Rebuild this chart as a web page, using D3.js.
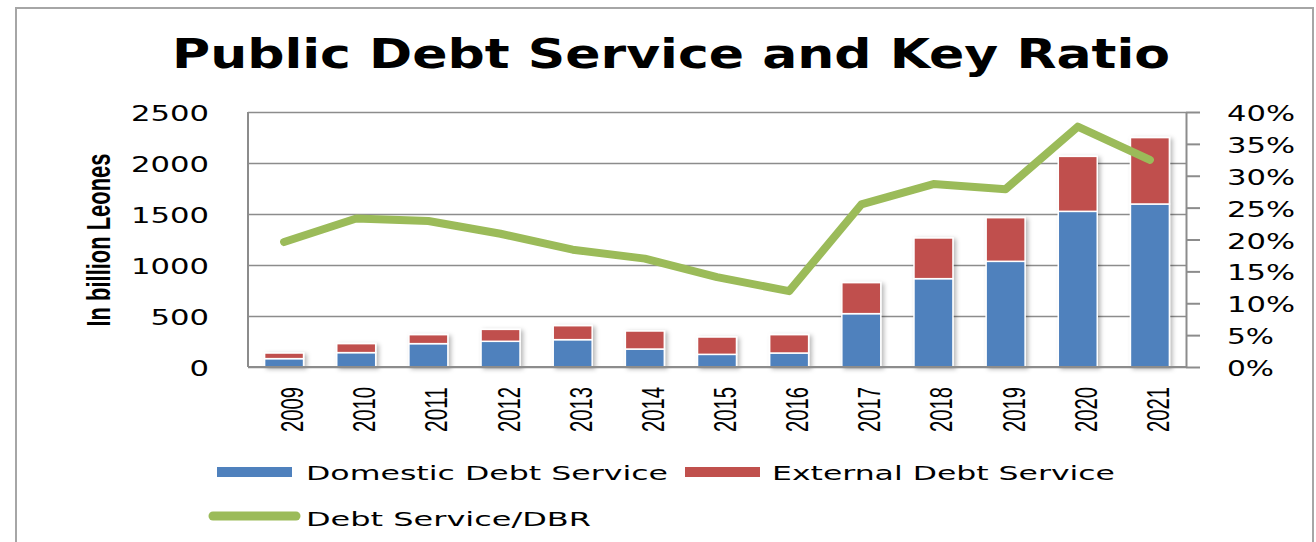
<!DOCTYPE html>
<html>
<head>
<meta charset="utf-8">
<script src="https://cdn.jsdelivr.net/npm/d3@7"></script>
<style>
  html, body { margin: 0; padding: 0; background: #ffffff; }
  svg { display: block; }
</style>
</head>
<body>
<svg id="chart" width="1316" height="542"></svg>
<script>
// Fiscal years on the category axis
const years = ["2009", "2010", "2011", "2012", "2013", "2014", "2015",
               "2016", "2017", "2018", "2019", "2020", "2021"];

// Debt service, billion Leones
const domesticDebtService = [82, 141, 229, 252, 268, 176, 124, 137, 523, 866, 1036, 1526, 1598];
const externalDebtService = [55, 88, 88, 117, 137, 177, 170, 180, 304, 399, 428, 539, 651];

// Debt service as a share of domestic budget revenue
const debtServiceRatio = [0.196, 0.233, 0.229, 0.209, 0.184, 0.170, 0.141, 0.119,
                          0.255, 0.287, 0.279, 0.377, 0.325];

// Axis ticks
const leftTicks = [0, 500, 1000, 1500, 2000, 2500];
const rightTicks = [0, 0.05, 0.10, 0.15, 0.20, 0.25, 0.30, 0.35, 0.40];

const seriesNames = ["Domestic Debt Service", "External Debt Service", "Debt Service/DBR"];
const colors = { domestic: "#4F81BD", external: "#C0504D", ratio: "#9BBB59" };

const svg = d3.select("#chart");

// Drop shadow for the columns
const defs = svg.append("defs");
const shadow = defs.append("filter").attr("id", "barShadow")
  .attr("x", "-30%").attr("y", "-10%").attr("width", "160%").attr("height", "130%");
shadow.append("feDropShadow").attr("dx", 2.5).attr("dy", 1.5)
  .attr("stdDeviation", 2).attr("flood-color", "#000").attr("flood-opacity", 0.28);

// Outer frame
svg.append("path")
  .attr("d", "M16,560 L16,8 L1313,8 L1313,560")
  .attr("fill", "none").attr("stroke", "#a6a6a6").attr("stroke-width", 2);

// Plot geometry
const plotLeft = 248, plotRight = 1186, plotTop = 112, plotBottom = 367;

const x = d3.scaleBand().domain(years).range([plotLeft, plotRight])
  .paddingInner(0.46).paddingOuter(0.23);
const yLeft = d3.scaleLinear().domain([0, 2500]).range([plotBottom, plotTop]);
const yRight = d3.scaleLinear().domain([0, 0.40]).range([plotBottom, plotTop]);

// Title
svg.append("text")
  .attr("x", 172).attr("y", 68)
  .attr("font-family", "'DejaVu Sans', Verdana, sans-serif")
  .attr("font-weight", "bold").attr("font-size", 40)
  .attr("textLength", 998).attr("lengthAdjust", "spacingAndGlyphs")
  .attr("fill", "#000")
  .text("Public Debt Service and Key Ratio");

// Horizontal gridlines
const grid = svg.append("g")
  .attr("transform", `translate(${plotLeft},0)`)
  .call(d3.axisLeft(yLeft).tickValues(leftTicks)
        .tickSize(-(plotRight - plotLeft)).tickFormat(""));
grid.select(".domain").remove();
grid.selectAll(".tick line").attr("stroke", "#8c8c8c").attr("stroke-width", 1.6);

// Left axis line
svg.append("line")
  .attr("x1", plotLeft).attr("x2", plotLeft)
  .attr("y1", plotTop).attr("y2", plotBottom)
  .attr("stroke", "#8c8c8c").attr("stroke-width", 2);

// Left tick labels
const leftAxis = svg.append("g")
  .attr("transform", "translate(209,0)")
  .call(d3.axisLeft(yLeft).tickValues(leftTicks).tickSize(0).tickPadding(0)
        .tickFormat(d3.format("d")));
leftAxis.select(".domain").remove();
leftAxis.selectAll(".tick text")
  .attr("font-family", "'DejaVu Sans', Verdana, sans-serif")
  .attr("font-size", 21).attr("fill", "#000")
  .attr("dy", null).attr("y", 8.5)
  .attr("textLength", d => String(d).length * 19.5)
  .attr("lengthAdjust", "spacingAndGlyphs");

// Columns
const stacked = years.map((yr, i) => ({
  year: yr, domestic: domesticDebtService[i], external: externalDebtService[i]
}));
const stack = d3.stack().keys(["domestic", "external"])(stacked);

const barsG = svg.append("g").attr("filter", "url(#barShadow)");
barsG.selectAll("g.series")
  .data(stack)
  .join("g")
  .attr("class", "series")
  .attr("fill", d => colors[d.key])
  .selectAll("rect")
  .data(d => d)
  .join("rect")
  .attr("x", d => x(d.data.year))
  .attr("width", x.bandwidth())
  .attr("y", d => yLeft(d[1]))
  .attr("height", d => yLeft(d[0]) - yLeft(d[1]))
  .attr("stroke", "#ffffff").attr("stroke-width", 1.5);

// Category axis
svg.append("line")
  .attr("x1", plotLeft).attr("x2", plotRight)
  .attr("y1", plotBottom).attr("y2", plotBottom)
  .attr("stroke", "#8c8c8c").attr("stroke-width", 2);

const xAxis = svg.append("g")
  .attr("transform", `translate(0,${plotBottom})`)
  .call(d3.axisBottom(x).tickSize(0).tickPadding(0));
xAxis.select(".domain").remove();
xAxis.selectAll(".tick text")
  .attr("font-family", "'Liberation Sans', Arial, sans-serif")
  .attr("font-size", 32).attr("fill", "#000")
  .attr("text-anchor", "end")
  .attr("dy", null).attr("y", null)
  .attr("transform", "translate(19,20) rotate(-90)")
  .attr("textLength", 45).attr("lengthAdjust", "spacingAndGlyphs");

// Secondary (ratio) axis
const rightAxis = svg.append("g")
  .attr("transform", `translate(${plotRight},0)`)
  .call(d3.axisRight(yRight).tickValues(rightTicks).tickSize(14).tickSizeOuter(0)
        .tickPadding(27).tickFormat(d3.format(".0%")));
rightAxis.select(".domain").attr("stroke", "#8c8c8c").attr("stroke-width", 2);
rightAxis.selectAll(".tick line").attr("stroke", "#8c8c8c").attr("stroke-width", 2);
rightAxis.selectAll(".tick text")
  .attr("font-family", "'DejaVu Sans', Verdana, sans-serif")
  .attr("font-size", 21).attr("fill", "#000")
  .attr("dy", null).attr("y", 8.5)
  .attr("textLength", d => d3.format(".0%")(d).replace("%", "").length * 21 + 26)
  .attr("lengthAdjust", "spacingAndGlyphs");

// Ratio line
const line = d3.line()
  .x((d, i) => x(years[i]) + x.bandwidth() / 2)
  .y(d => yRight(d));
svg.append("path")
  .datum(debtServiceRatio)
  .attr("d", line)
  .attr("fill", "none")
  .attr("stroke", colors.ratio).attr("stroke-width", 8)
  .attr("stroke-linecap", "round").attr("stroke-linejoin", "round");

// Legend
const legend = svg.append("g")
  .attr("font-family", "'DejaVu Sans', Verdana, sans-serif")
  .attr("font-size", 20).attr("fill", "#000");

legend.append("rect").attr("x", 217).attr("y", 467).attr("width", 75).attr("height", 10)
  .attr("fill", colors.domestic);
legend.append("text").attr("x", 306).attr("y", 480)
  .attr("textLength", 362).attr("lengthAdjust", "spacingAndGlyphs")
  .text(seriesNames[0]);

legend.append("rect").attr("x", 685).attr("y", 467).attr("width", 75).attr("height", 10)
  .attr("fill", colors.external);
legend.append("text").attr("x", 772).attr("y", 480)
  .attr("textLength", 343).attr("lengthAdjust", "spacingAndGlyphs")
  .text(seriesNames[1]);

legend.append("line").attr("x1", 213).attr("x2", 296).attr("y1", 516).attr("y2", 516)
  .attr("stroke", colors.ratio).attr("stroke-width", 9).attr("stroke-linecap", "round");
legend.append("text").attr("x", 306).attr("y", 526)
  .attr("textLength", 285).attr("lengthAdjust", "spacingAndGlyphs")
  .text(seriesNames[2]);

// Value-axis title
svg.append("text")
  .attr("transform", "translate(110,240) rotate(-90)")
  .attr("text-anchor", "middle")
  .attr("font-family", "'Liberation Sans', Arial, sans-serif")
  .attr("font-weight", "bold").attr("font-size", 34).attr("fill", "#000")
  .attr("textLength", 173).attr("lengthAdjust", "spacingAndGlyphs")
  .text("In  billion Leones");
</script>
</body>
</html>
